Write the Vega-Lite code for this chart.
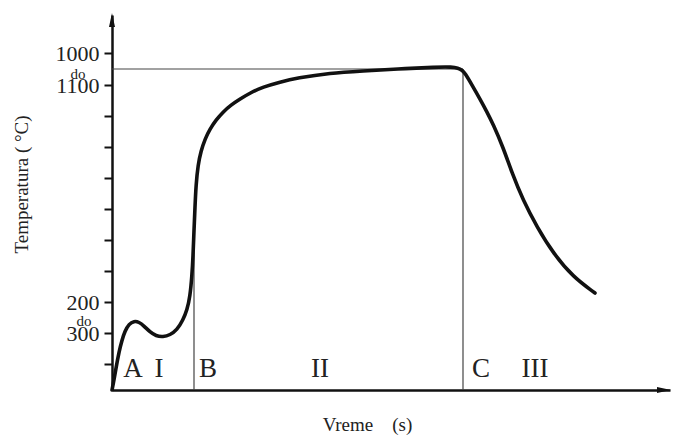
{
  "$schema": "https://vega.github.io/schema/vega-lite/v6.json",
  "autosize": "none",
  "width": 558,
  "height": 375,
  "padding": {"left": 112, "top": 15, "right": 6, "bottom": 45},
  "background": "white",
  "config": {"view": {"stroke": null}},
  "datasets": {
    "curve": [
      {"x": 0, "y": 0}, {"x": 2, "y": 10}, {"x": 4, "y": 22}, {"x": 7, "y": 38}, {"x": 10, "y": 50},
      {"x": 13, "y": 59}, {"x": 17, "y": 66}, {"x": 22, "y": 69}, {"x": 27, "y": 68}, {"x": 32, "y": 64},
      {"x": 38, "y": 58}, {"x": 44, "y": 54}, {"x": 51, "y": 53}, {"x": 58, "y": 55}, {"x": 65, "y": 60},
      {"x": 71, "y": 70}, {"x": 75, "y": 80}, {"x": 78, "y": 93}, {"x": 80, "y": 115}, {"x": 81, "y": 133},
      {"x": 82, "y": 160}, {"x": 83, "y": 183}, {"x": 84, "y": 205}, {"x": 86, "y": 225}, {"x": 89, "y": 239},
      {"x": 93, "y": 251}, {"x": 98, "y": 261}, {"x": 104, "y": 270}, {"x": 111, "y": 278}, {"x": 119, "y": 285},
      {"x": 128, "y": 291}, {"x": 138, "y": 297}, {"x": 151, "y": 303}, {"x": 168, "y": 308}, {"x": 185, "y": 312},
      {"x": 218, "y": 317}, {"x": 251, "y": 319}, {"x": 285, "y": 321}, {"x": 325, "y": 323}, {"x": 340, "y": 323},
      {"x": 346, "y": 322}, {"x": 350, "y": 320}, {"x": 353, "y": 317}, {"x": 360, "y": 305}, {"x": 368, "y": 291},
      {"x": 375, "y": 278}, {"x": 381, "y": 266}, {"x": 391, "y": 243}, {"x": 400, "y": 217}, {"x": 411, "y": 190},
      {"x": 425, "y": 163}, {"x": 441, "y": 137}, {"x": 461, "y": 113}, {"x": 483, "y": 97}
    ],
    "rules": [
      {"x": 0, "y": 321, "x2": 351, "y2": 321},
      {"x": 351, "y": 0, "x2": 351, "y2": 321},
      {"x": 82, "y": 0, "x2": 82, "y2": 160}
    ],
    "regions": [
      {"x": 21, "y": 13, "label": "A"},
      {"x": 47, "y": 13, "label": "I"},
      {"x": 96, "y": 13, "label": "B"},
      {"x": 208, "y": 13, "label": "II"},
      {"x": 369, "y": 13, "label": "C"},
      {"x": 423, "y": 13, "label": "III"}
    ],
    "dos": [
      {"x": -34, "y": 311, "label": "do"},
      {"x": -28, "y": 64, "label": "do"}
    ],
    "arrowY": [{"x": 0, "y": 370}],
    "arrowX": [{"x": 552, "y": 0}]
  },
  "encoding": {
    "x": {
      "field": "x", "type": "quantitative",
      "scale": {"domain": [0, 558], "nice": false, "zero": false},
      "axis": {
        "ticks": false, "labels": false, "grid": false,
        "domainWidth": 2.5, "domainColor": "#111",
        "title": "Vreme\u00a0\u00a0\u00a0\u00a0(s)", "titleFont": "Liberation Serif", "titleFontSize": 19,
        "titleFontWeight": "normal", "titleColor": "#222",
        "titleX": 255, "titleY": 40, "titleAlign": "center", "titleBaseline": "alphabetic"
      }
    },
    "y": {
      "field": "y", "type": "quantitative",
      "scale": {"domain": [0, 375], "nice": false, "zero": false},
      "axis": {
        "values": [26, 57, 88, 119, 150, 181, 212, 243, 274, 305, 337],
        "labelExpr": "datum.value == 337 ? '1000' : datum.value == 305 ? '1100' : datum.value == 88 ? '200' : datum.value == 57 ? '300' : ''",
        "grid": false, "domainWidth": 2.5, "domainColor": "#111",
        "tickColor": "#111", "tickWidth": 2, "tickSize": 8,
        "labelFont": "Liberation Serif", "labelFontSize": 22, "labelColor": "#222",
        "labelPadding": 5, "labelFlush": false, "labelOverlap": false, "labelBound": false,
        "title": "Temperatura ( °C)", "titleFont": "Liberation Serif", "titleFontSize": 19,
        "titleFontWeight": "normal", "titleColor": "#222",
        "titleX": -91, "titleY": 169, "titleAngle": 270, "titleAlign": "center", "titleBaseline": "middle"
      }
    }
  },
  "layer": [
    {
      "data": {"name": "rules"},
      "mark": {"type": "rule", "color": "#444", "strokeWidth": 1.2},
      "encoding": {"x2": {"field": "x2"}, "y2": {"field": "y2"}}
    },
    {
      "data": {"name": "curve"},
      "mark": {"type": "line", "color": "#111", "strokeWidth": 3.6, "interpolate": "basis", "strokeCap": "round", "strokeJoin": "round"}
    },
    {
      "data": {"name": "regions"},
      "mark": {"type": "text", "font": "Liberation Serif", "fontSize": 27, "color": "#222", "baseline": "alphabetic", "align": "center"},
      "encoding": {"text": {"field": "label"}}
    },
    {
      "data": {"name": "dos"},
      "mark": {"type": "text", "font": "Liberation Serif", "fontSize": 15, "color": "#222", "baseline": "alphabetic", "align": "center"},
      "encoding": {"text": {"field": "label"}}
    },
    {
      "data": {"name": "arrowY"},
      "mark": {"type": "point", "shape": "M0,-1L0.43,1L-0.43,1Z", "size": 196, "filled": true, "color": "#111", "opacity": 1}
    },
    {
      "data": {"name": "arrowX"},
      "mark": {"type": "point", "shape": "M1,0L-1,-0.43L-1,0.43Z", "size": 196, "filled": true, "color": "#111", "opacity": 1}
    }
  ]
}
